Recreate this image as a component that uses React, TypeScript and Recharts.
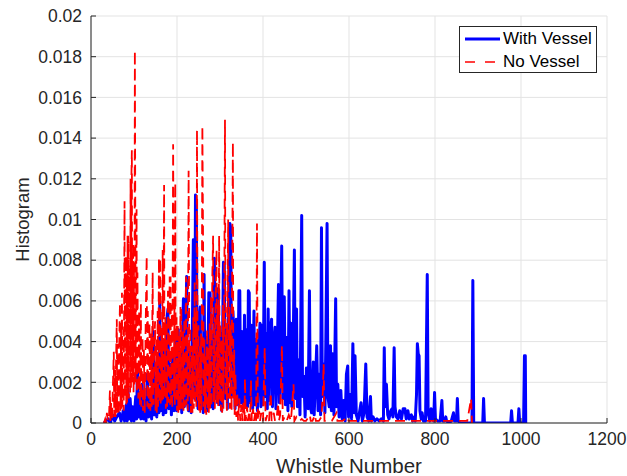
import React from 'react';
import { LineChart, Line, XAxis, YAxis, CartesianGrid, Legend } from 'recharts';

// [whistle number, histogram value]
const withVessel: [number, number][] = [
  [30, 0], [40, 0.0002], [45, 0], [50, 0.0004], [55, 0.0001], [60, 0.0003], [66, 0.0005], [70, 0.0001],
  [75, 0.0006], [78, 0.0001], [82, 0.0009], [84, 0.0001], [86, 0.0017], [88, 0.0002], [91, 0.0012], [94, 0.0001],
  [97, 0.0008], [100, 0.0001], [104, 0.0013], [106, 0.0002], [108, 0.0027], [110, 0.0003], [113, 0.0015], [116, 0.0002],
  [119, 0.0019], [122, 0.0002], [125, 0.0011], [128, 0.0001], [131, 0.0024], [134, 0.0003], [138, 0.0016], [141, 0.0002],
  [145, 0.0045], [147, 0.0004], [150, 0.0022], [153, 0.0003], [156, 0.0033], [158, 0.0005], [160, 0.006], [162, 0.0006],
  [165, 0.0031], [168, 0.0004], [171, 0.0038], [174, 0.0005], [177, 0.0052], [179, 0.0056], [181, 0.0007], [184, 0.0029],
  [187, 0.0004], [190, 0.0034], [193, 0.0006], [196, 0.0042], [199, 0.0006], [203, 0.0046], [205, 0.0007], [208, 0.0031],
  [211, 0.0005], [213, 0.0045], [215, 0.0061], [217, 0.0008], [220, 0.0039], [222.5, 0.0072], [224, 0.001], [227, 0.0006],
  [230, 0.0035], [233, 0.0005], [236, 0.0052], [238, 0.009], [240, 0.0089], [241, 0.0012], [243, 0.0112], [245, 0.0108],
  [247, 0.0013], [249, 0.0007], [251, 0.0049], [254, 0.0057], [256, 0.0008], [259, 0.0036], [261, 0.0005], [263, 0.0073],
  [265, 0.0013], [268, 0.0042], [270, 0.0006], [274, 0.0064], [276, 0.0011], [277, 0.0064], [279, 0.0008], [282, 0.0043],
  [284, 0.0007], [287, 0.0081], [289, 0.0012], [292, 0.0066], [294, 0.001], [296, 0.0066], [298, 0.0009], [301, 0.0044],
  [304, 0.0006], [308, 0.0079], [310, 0.0078], [312, 0.0012], [315, 0.0048], [317, 0.0007], [320, 0.0062], [323, 0.0098],
  [325, 0.0096], [327, 0.0013], [330, 0.0055], [333, 0.0042], [335, 0.0007], [338, 0.0051], [341, 0.0009], [344, 0.0065],
  [346, 0.0065], [348, 0.001], [351, 0.0045], [354, 0.0007], [357, 0.0053], [359, 0.001], [362, 0.0046], [364, 0.0008],
  [366, 0.0065], [368, 0.0064], [370, 0.001], [373, 0.0048], [376, 0.0007], [379, 0.0055], [381, 0.0009], [384, 0.0041],
  [387, 0.0006], [390, 0.0036], [393, 0.0049], [395, 0.0008], [397, 0.0048], [400, 0.0009], [403, 0.0079], [405, 0.0013],
  [408, 0.0044], [410, 0.0007], [412, 0.0056], [414, 0.0011], [417, 0.0045], [420, 0.0051], [422, 0.0008], [425, 0.0038],
  [428, 0.0047], [430, 0.0007], [433, 0.0032], [436, 0.0068], [438, 0.001], [441, 0.0048], [443.5, 0.0087], [446, 0.0012],
  [449.5, 0.0062], [452, 0.0009], [455, 0.0042], [458, 0.0006], [460.5, 0.0065], [463, 0.001], [465, 0.0049], [467, 0.0008],
  [470, 0.0034], [473, 0.0085], [475, 0.0012], [478, 0.0056], [480, 0.0008], [483, 0.0031], [486, 0.0004], [490, 0.0102],
  [492, 0.0013], [495, 0.0023], [498, 0.0003], [501, 0.0027], [505, 0.0007], [508, 0.0065], [510, 0.0008], [513, 0.0005],
  [517, 0.003], [519, 0.0004], [522, 0.0021], [525, 0.0038], [528, 0.0006], [531, 0.0024], [534, 0.0004], [536, 0.0096],
  [538, 0.0013], [541, 0.0029], [544, 0.0005], [546, 0.0038], [549, 0.0098], [551, 0.0013], [554, 0.0008], [557, 0.0038],
  [559, 0.0006], [562, 0.0034], [565, 0.0004], [569, 0.0061], [571, 0.0008], [574, 0.0019], [577, 0.0003], [581, 0.0016],
  [584, 0.0002], [588, 0.0011], [591, 0.0001], [594, 0.0024], [597, 0.0028], [599, 0.0003], [603, 0.0014], [606, 0.0002],
  [609, 0.0039], [612, 0.0005], [614, 0.0033], [617, 0.0004], [621, 0.0001], [625, 0.0006], [628, 0.001], [631, 0.0001],
  [635, 0.0005], [639, 0.0029], [642, 0.0003], [646, 0.0001], [650, 0.0013], [652, 0.0001], [656, 0.0003], [660, 0.0001],
  [665, 0.0002], [670, 0.0001], [675, 0.0002], [680, 0.0001], [682, 0.0037], [684, 0.0008], [687, 0.0019], [690, 0.0004],
  [693, 0.0002], [697, 0.0006], [700, 0.0007], [702, 0.0003], [705, 0.0037], [707, 0.0008], [710, 0.0003], [714, 0.0002],
  [718, 0.0006], [722, 0.0002], [726, 0.0007], [730, 0.0007], [733, 0.0002], [737, 0.0006], [740, 0.0002], [745, 0.0004],
  [748, 0.0001], [752, 0.0003], [754, 0.0001], [757, 0.0014], [759, 0.0039], [761, 0.0034], [763, 0.0033], [765, 0.0006],
  [768, 0.0002], [770, 0.0005], [773, 0.0001], [778, 0.0001], [782, 0.0073], [784, 0.0005], [788, 0.0001], [791, 0.0007],
  [794, 0.0002], [797, 0.0001], [799, 0.0015], [801, 0.0002], [806, 0.0001], [812, 0.0001], [816, 0.0011], [818, 0.0001],
  [822, 0.0001], [825, 0.0003], [827, 0.0001], [832, 0], [838, 0.0001], [843, 0.0005], [845, 0.0001], [850, 0.0001],
  [852, 0.0012], [854, 0.0001], [858, 0], [886, 0], [888, 0.007], [890, 0], [911, 0], [913, 0.0012], [915, 0],
  [976, 0], [978, 0.0006], [980, 0], [993, 0], [995, 0.0007], [997, 0], [1006, 0], [1008, 0.0033], [1010, 0.0033], [1011, 0],
];

const noVessel: [number, number][] = [
  [30, 0], [33, 0.0002], [35, 0], [37, 0.0005], [39, 0.0001], [42, 0.0004], [44, 0.0016], [45, 0.0001],
  [47, 0.001], [49, 0.0001], [51, 0.0019], [53, 0.0035], [54, 0.0003], [56, 0.0026], [57, 0.0003], [58, 0.0027],
  [60, 0.0051], [61, 0.0005], [63, 0.0039], [64, 0.0004], [66, 0.0044], [67.4, 0.0059], [68.5, 0.0006], [70, 0.0048],
  [71, 0.0007], [72, 0.0064], [73, 0.0008], [75, 0.0046], [76, 0.0006], [78, 0.0109], [79, 0.0012], [81, 0.0082],
  [82, 0.0009], [83, 0.0067], [84, 0.001], [85, 0.0092], [86, 0.0013], [87, 0.0092], [88, 0.0012], [90, 0.0076],
  [91, 0.0015], [92, 0.012], [93, 0.0017], [94, 0.0121], [95, 0.0134], [96, 0.002], [98, 0.0088], [99, 0.0015],
  [100, 0.0079], [101, 0.0018], [102, 0.0183], [103, 0.0105], [104, 0.002], [106, 0.0105], [107, 0.0015], [108, 0.0074],
  [110, 0.0012], [112, 0.0055], [114, 0.0009], [116, 0.0059], [117, 0.0008], [120, 0.0042], [121, 0.0006], [123, 0.0036],
  [125, 0.0005], [127, 0.0046], [129.5, 0.0082], [131, 0.0008], [132, 0.0055], [134, 0.0007], [136, 0.0049], [138, 0.0006],
  [140, 0.0044], [141, 0.0008], [143.4, 0.0074], [145, 0.0009], [147, 0.0038], [149, 0.005], [150, 0.0006], [152, 0.0041],
  [153, 0.0005], [155, 0.0055], [156, 0.0008], [158, 0.0081], [159, 0.001], [161, 0.0081], [162, 0.0009], [164, 0.0046],
  [165, 0.0011], [166.7, 0.0085], [168, 0.0011], [170, 0.0117], [171, 0.0013], [173, 0.0052], [174, 0.0007], [176, 0.005],
  [177, 0.0008], [179, 0.0065], [180, 0.001], [183, 0.0072], [184, 0.0009], [185, 0.0072], [186, 0.001], [188, 0.0058],
  [189, 0.0007], [191, 0.0137], [193, 0.0013], [194, 0.0062], [195, 0.0009], [196, 0.0118], [197, 0.0012], [199, 0.0052],
  [200, 0.0006], [202, 0.0048], [203, 0.0005], [205, 0.0043], [206, 0.0006], [208, 0.0057], [209, 0.0007], [210, 0.0057],
  [212, 0.0007], [214, 0.0045], [215, 0.0006], [217, 0.0051], [218, 0.0008], [221, 0.0072], [222, 0.0009], [224, 0.0043],
  [225, 0.0006], [227, 0.0124], [229, 0.0013], [231, 0.0047], [232, 0.0005], [234, 0.0038], [236, 0.0005], [238, 0.0052],
  [239, 0.0007], [241, 0.0069], [242, 0.0009], [244, 0.0054], [245, 0.0008], [246.5, 0.0144], [248, 0.0011], [250, 0.0048],
  [251, 0.0006], [253, 0.0039], [254, 0.0005], [256, 0.0044], [257, 0.0006], [259, 0.0146], [261, 0.0077], [262, 0.0008],
  [264, 0.0041], [265, 0.0005], [267, 0.0033], [268, 0.0004], [270, 0.0046], [271, 0.0006], [273, 0.0038], [274, 0.0005],
  [276, 0.0049], [277, 0.0007], [279, 0.0062], [280, 0.0008], [282, 0.0071], [284, 0.0092], [285, 0.001], [287, 0.0052],
  [288, 0.0007], [290, 0.0063], [292, 0.0085], [293, 0.001], [295, 0.0058], [296, 0.0008], [298, 0.0092], [299.5, 0.0011],
  [301, 0.0049], [302, 0.0006], [304, 0.0041], [305, 0.0005], [307, 0.0058], [308, 0.0007], [310, 0.0066], [311.6, 0.0149],
  [313, 0.0013], [315, 0.0046], [316, 0.0006], [317, 0.0054], [319, 0.01], [320, 0.0012], [322, 0.0057], [323, 0.0007],
  [325, 0.0048], [327, 0.0006], [328, 0.0064], [330, 0.0138], [331, 0.0011], [333, 0.0036], [334, 0.0004], [336, 0.0024],
  [338, 0.0003], [340, 0.0015], [342, 0.0001], [345, 0.0012], [347, 0.0001], [350, 0.0009], [352, 0.0001], [355, 0.0011],
  [357, 0.0001], [358, 0.0022], [360, 0.0001], [363, 0.0008], [365, 0.0001], [368, 0.0006], [370, 0.0001], [372, 0.0021],
  [374, 0.0001], [377, 0.0007], [379, 0.0001], [382, 0.0005], [384, 0.0001], [386, 0.0098], [388, 0.0001], [391, 0.0006],
  [393, 0.0001], [396, 0.0005], [400, 0.0001], [404, 0.0037], [406, 0.0001], [410, 0.0004], [414, 0.0001], [418, 0.0015],
  [420, 0.0001], [425, 0.0005], [428, 0.0001], [432, 0.0003], [435, 0.001], [437, 0.0001], [440, 0.0004], [444, 0.0038],
  [446, 0.0001], [450, 0.0003], [455, 0.0001], [460, 0.0004], [465, 0.0001], [471, 0.0019], [473, 0.0001], [478, 0.0003],
  [485, 0.0001], [490, 0.0002], [495, 0.0001], [500, 0.0001], [509, 0.0004], [511, 0.0001], [515, 0.0001], [521, 0.0004],
  [523, 0.0001], [530, 0.0001], [536, 0.0003], [539, 0.0015], [541, 0.0029], [543, 0.0001], [550, 0.0001], [560, 0.0001],
  [571, 0.0005], [573, 0.0001], [585, 0.0001], [597, 0.0003], [599, 0.0001], [620, 0.0001], [700, 0.0001], [800, 0.0001],
  [875, 0.0001], [884, 0.0012], [886, 0],
];

const xTicks = [0, 200, 400, 600, 800, 1000, 1200];
const yTicks = [0, 0.002, 0.004, 0.006, 0.008, 0.01, 0.012, 0.014, 0.016, 0.018, 0.02];
const seriesNames = ['With Vessel', 'No Vessel'];
const seriesColors = ['#0000ff', '#ff0000'];

const withVesselData = withVessel.map(([w, h]) => ({ whistle: w, hist: h }));
const noVesselData = noVessel.map(([w, h]) => ({ whistle: w, hist: h }));

const FONT = '"Liberation Sans", Arial, Helvetica, sans-serif';
const AXIS = '#262626';

const LegendBox = () => (
  <div
    style={{
      border: `1px solid ${AXIS}`,
      background: '#fff',
      width: 138,
      height: 47,
      boxSizing: 'border-box',
      fontFamily: FONT,
      fontSize: 17,
      color: '#000',
      position: 'relative',
    }}
  >
    {seriesNames.map((name, i) => (
      <div key={name} style={{ position: 'absolute', left: 5, top: i === 0 ? 2 : 25, height: 20, display: 'flex', alignItems: 'center' }}>
        <svg width={36} height={20} style={{ display: 'block' }}>
          <line
            x1={0}
            x2={35}
            y1={10}
            y2={10}
            stroke={seriesColors[i]}
            strokeWidth={i === 0 ? 3 : 1.5}
            strokeDasharray={i === 0 ? undefined : '10 10'}
          />
        </svg>
        <span style={{ marginLeft: 2, lineHeight: '20px' }}>{name}</span>
      </div>
    ))}
  </div>
);

export default function App() {
  return (
    <div style={{ width: 627, height: 476, overflow: 'hidden' }}>
      <style>{'body{margin:0;overflow:hidden}'}</style>
      <LineChart width={627} height={476} margin={{ top: 16, right: 20, bottom: 0, left: 0 }}>
        <CartesianGrid stroke="#e3e3e3" strokeWidth={1} />
        <XAxis
          xAxisId={0}
          type="number"
          dataKey="whistle"
          domain={[0, 1200]}
          ticks={xTicks}
          allowDataOverflow
          height={53}
          stroke={AXIS}
          tickSize={-5}
          tickMargin={15}
          tick={{ fill: AXIS, fontSize: 17.5, fontFamily: FONT }}
          label={{ value: 'Whistle Number', position: 'insideBottom', offset: 3, fill: AXIS, fontSize: 20.5, fontFamily: FONT }}
        />
        <XAxis
          xAxisId="top"
          orientation="top"
          type="number"
          dataKey="whistle"
          domain={[0, 1200]}
          ticks={xTicks}
          allowDataOverflow
          height={0}
          stroke={AXIS}
          tickSize={-5}
          tick={false}
        />
        <YAxis
          yAxisId={0}
          type="number"
          domain={[0, 0.02]}
          ticks={yTicks}
          allowDataOverflow
          width={91}
          stroke={AXIS}
          tickSize={-5}
          tickMargin={14}
          tick={{ fill: AXIS, fontSize: 17.5, fontFamily: FONT }}
          label={{ value: 'Histogram', angle: -90, position: 'insideLeft', offset: 22, fill: AXIS, fontSize: 18.5, fontFamily: FONT, style: { textAnchor: 'middle' } }}
        />
        <YAxis
          yAxisId="right"
          orientation="right"
          type="number"
          domain={[0, 0.02]}
          ticks={yTicks}
          allowDataOverflow
          width={0}
          stroke={AXIS}
          tickSize={-5}
          tick={false}
        />
        <Line
          data={withVesselData}
          dataKey="hist"
          name={seriesNames[0]}
          type="linear"
          stroke={seriesColors[0]}
          strokeWidth={3}
          dot={false}
          activeDot={false}
          strokeLinejoin="round"
          isAnimationActive={false}
        />
        <Line
          data={noVesselData}
          dataKey="hist"
          name={seriesNames[1]}
          type="linear"
          stroke={seriesColors[1]}
          strokeWidth={1.8}
          strokeDasharray="10 6"
          dot={false}
          activeDot={false}
          isAnimationActive={false}
        />
        <Legend
          layout="vertical"
          align="center"
          verticalAlign="middle"
          wrapperStyle={{ top: 26, left: 459, width: 138, height: 47 }}
          content={() => <LegendBox />}
        />
      </LineChart>
    </div>
  );
}
